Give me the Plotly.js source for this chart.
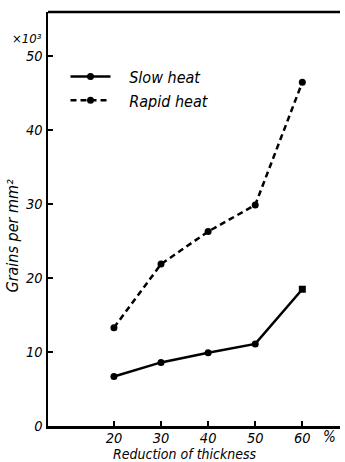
<!DOCTYPE html>
<html>
<head>
<meta charset="utf-8">
<script src="https://cdn.plot.ly/plotly-3.0.1.min.js"></script>
<style>
html,body{margin:0;padding:0;background:#fff;}
#chart{width:345px;height:462px;}
</style>
</head>
<body>
<div id="chart"></div>
<script>
// Data
const reduction = [20, 30, 40, 50, 60];          // Reduction of thickness (%)
const slowHeat  = [6.7, 8.6, 9.9, 11.1, 18.5];    // Grains per mm^2 (x10^3)
const rapidHeat = [13.3, 21.9, 26.3, 29.9, 46.5]; // Grains per mm^2 (x10^3)
const xTicks = [20, 30, 40, 50, 60];
const yTicks = [0, 10, 20, 30, 40, 50];
const seriesNames = ['Slow heat', 'Rapid heat'];

const FONT = 'DejaVu Sans Condensed, Liberation Sans Narrow, sans-serif';
const tickFont = {family: FONT, size: 14.5, color: '#000', style: 'italic'};
const pad = '\u00a0\u00a0\u00a0';

const traces = [
  {
    x: reduction, y: slowHeat, name: pad + seriesNames[0], type: 'scatter', mode: 'lines+markers',
    line: {color: '#000', width: 2.5},
    marker: {color: '#000', size: 7, symbol: ['circle','circle','circle','circle','square']}
  },
  {
    x: reduction, y: rapidHeat, name: pad + seriesNames[1], type: 'scatter', mode: 'lines+markers',
    line: {color: '#000', width: 2.5, dash: '6px,4px'},
    marker: {color: '#000', size: 7, symbol: 'circle'}
  }
];

const layout = {
  width: 345, height: 462,
  margin: {l: 48, r: 5, t: 12, b: 36},
  paper_bgcolor: '#fff', plot_bgcolor: '#fff',
  showlegend: true,
  legend: {
    x: 0.06, y: 0.885, xanchor: 'left', yanchor: 'top',
    font: {family: FONT, size: 16, color: '#000', style: 'italic'},
    itemwidth: 40, tracegroupgap: 0, bgcolor: 'rgba(0,0,0,0)'
  },
  xaxis: {
    range: [6, 68], tickvals: xTicks, ticktext: xTicks.map(String),
    ticks: 'inside', ticklen: 5, tickwidth: 2, tickcolor: '#000',
    ticklabelstandoff: -3,
    showline: true, linecolor: '#000', linewidth: 2.5,
    showgrid: false, zeroline: false, tickfont: tickFont
  },
  yaxis: {
    range: [0, 56], tickvals: yTicks, ticktext: yTicks.map(String),
    ticks: 'inside', ticklen: 5, tickwidth: 2, tickcolor: '#000',
    showline: true, linecolor: '#000', linewidth: 2.5,
    showgrid: false, zeroline: false, tickfont: tickFont
  },
  shapes: [
    {type: 'line', xref: 'paper', yref: 'paper', x0: 0, x1: 1, y0: 1, y1: 1,
     line: {color: '#000', width: 2.5}}
  ],
  annotations: [
    {text: 'Grains per mm²', xref: 'paper', yref: 'paper', x: -0.12, y: 0.46,
     textangle: -90, showarrow: false, xanchor: 'center', yanchor: 'middle',
     font: {family: FONT, size: 16, color: '#000', style: 'italic'}},
    {text: '×10³', xref: 'paper', yref: 'paper', x: -0.015, y: 0.935,
     showarrow: false, xanchor: 'right', yanchor: 'middle',
     font: {family: FONT, size: 13, color: '#000', style: 'italic'}},
    {text: '%', xref: 'paper', yref: 'paper', x: 0.965, y: 0, yshift: -11,
     showarrow: false, xanchor: 'center', yanchor: 'middle',
     font: {family: FONT, size: 15, color: '#000', style: 'italic'}},
    {text: 'Reduction of thickness', xref: 'paper', yref: 'paper', x: 0.47, y: 0, yshift: -28,
     showarrow: false, xanchor: 'center', yanchor: 'middle',
     font: {family: FONT, size: 14, color: '#000', style: 'italic'}}
  ]
};

Plotly.newPlot('chart', traces, layout, {displayModeBar: false, staticPlot: true});
</script>
</body>
</html>
